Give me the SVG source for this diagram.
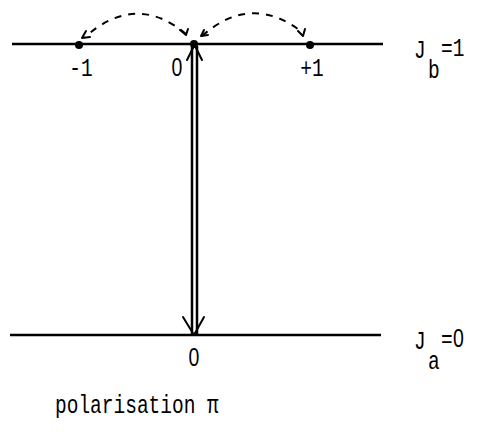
<svg xmlns="http://www.w3.org/2000/svg" width="495" height="435" viewBox="0 0 495 435">
<defs>
<style>
.t{font-family:"Liberation Mono","DejaVu Sans Mono",monospace;font-size:19.5px;fill:#000}
.z{font-family:"Liberation Sans","DejaVu Sans",sans-serif;font-size:19.5px;fill:#000}
.ln{stroke:#000;stroke-width:2.5;fill:none}
.dash{stroke:#000;stroke-width:2;fill:none;stroke-dasharray:7 7}
.hd{stroke:#000;stroke-width:2;fill:none;stroke-linecap:round;stroke-linejoin:round}
</style>
</defs>
<rect width="495" height="435" fill="#fff"/>
<g id="level-b">
<line class="ln" x1="12" y1="44" x2="383" y2="44"/>
<text class="t" transform="translate(414,58) scale(1,1.35)">J</text>
<text class="t" transform="translate(428,78) scale(1,1.35)">b</text>
<text class="t" transform="translate(441,56) scale(1,1.35)">=1</text>
</g>
<g id="state-m1">
<circle cx="79" cy="45" r="4"/>
<text class="t" transform="translate(81,76) scale(1,1.35)" text-anchor="middle">-1</text>
</g>
<g id="state-0">
<circle cx="194" cy="44" r="4"/>
<text class="z" transform="translate(177,76) scale(1,1.35)" text-anchor="middle">0</text>
</g>
<g id="state-p1">
<circle cx="310" cy="45" r="4"/>
<text class="t" transform="translate(312,76) scale(1,1.35)" text-anchor="middle">+1</text>
</g>
<g id="level-a">
<line class="ln" x1="10" y1="335" x2="381" y2="335"/>
<text class="z" transform="translate(194,366) scale(1,1.35)" text-anchor="middle">0</text>
<text class="t" transform="translate(414,349) scale(1,1.35)">J</text>
<text class="t" transform="translate(428,369) scale(1,1.35)">a</text>
<text class="t" transform="translate(441,347) scale(1,1.35)">=</text>
<text class="z" transform="translate(453,347) scale(1,1.35)">0</text>
</g>
<g id="connectors">
<line class="ln" x1="192" y1="46" x2="192" y2="334"/>
<line class="ln" x1="197" y1="46" x2="197" y2="334"/>
<polyline class="hd" points="187,60 194.5,45 202,60"/>
<polyline class="hd" points="183,317 194,335 204,317"/>
<path class="dash" d="M186,34 Q136,-8 85,37"/>
<polyline class="hd" points="86,31 82,38 90,37"/>
<polyline class="hd" points="180,30 186,35 188,29"/>
<path class="dash" d="M202,36 Q252,-8 303,33"/>
<polyline class="hd" points="204,30 201,36 208,35"/>
<polyline class="hd" points="298,31 303,36 305,29"/>
</g>
<text class="t" transform="translate(55,413) scale(1,1.35)">polarisation π</text>
</svg>
